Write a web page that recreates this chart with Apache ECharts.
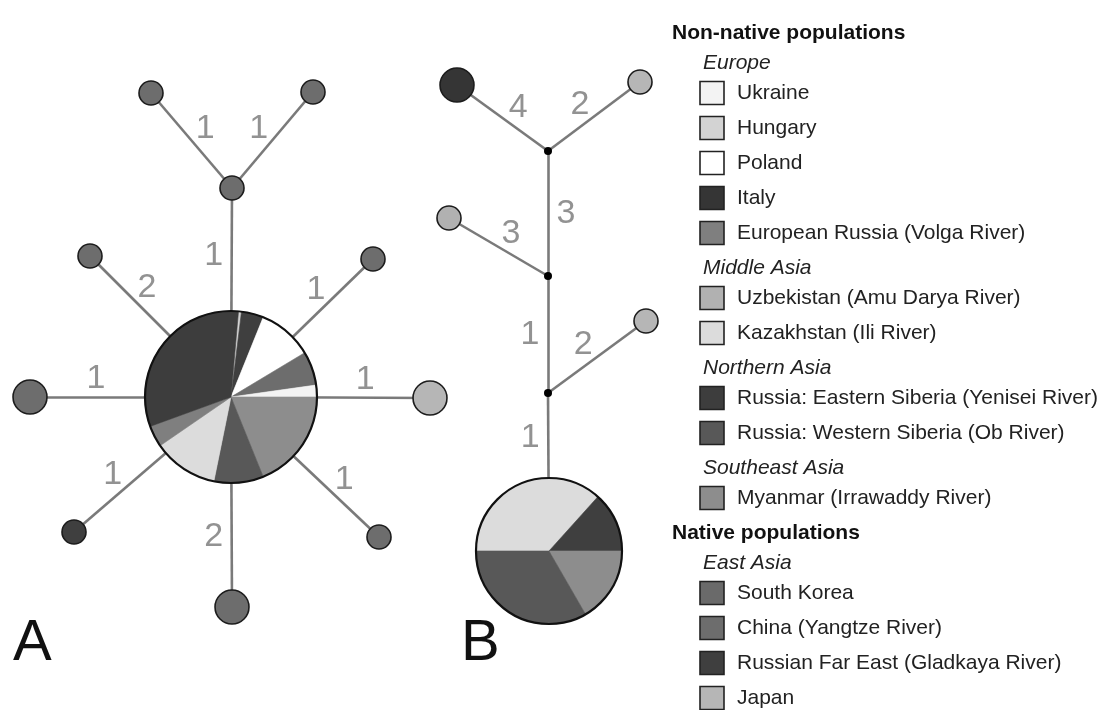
<!DOCTYPE html>
<html>
<head>
<meta charset="utf-8">
<script src="https://cdn.jsdelivr.net/npm/echarts@6/dist/echarts.min.js"></script>
<style>
html,body{margin:0;padding:0;background:#fff}
#main{width:1105px;height:710px}
</style>
</head>
<body>
<div id="main"></div>
<script>
// haplotype networks A and B + population legend

// nodes (x, y in figure units)
var nodeNames = ['A0','A1','A2','A3','A4','A5','A6','A7','A8','A9','A10','B0','B1','B2','B3','B4','B5','B6','B7'];
var nodeX = [231, 232, 151, 313, 90, 373, 30, 430, 74, 379, 232, 549, 548, 548, 548, 646, 449, 457, 640];
var nodeY = [397, 188, 93, 92, 256, 259, 397, 398, 532, 537, 607, 551, 393, 276, 151, 321, 218, 85, 82];
var nodeKind = ['pie','hap','hap','hap','hap','hap','hap','hap','hap','hap','hap','pie','median','median','median','hap','hap','hap','hap'];
var nodeCount = [0, 1, 1, 1, 1, 1, 2, 2, 1, 1, 2, 0, 0, 0, 0, 1, 1, 2, 1];
var nodePop = ['', 'China (Yangtze River)', 'China (Yangtze River)', 'China (Yangtze River)', 'China (Yangtze River)',
  'China (Yangtze River)', 'China (Yangtze River)', 'Japan', 'Russian Far East (Gladkaya River)', 'China (Yangtze River)',
  'China (Yangtze River)', '', '', '', '', 'Japan', 'Uzbekistan (Amu Darya River)', 'Italy', 'Japan'];

// links: number of mutational steps
var edgeFrom  = ['A0','A1','A1','A0','A0','A0','A0','A0','A0','A0','B0','B1','B1','B2','B2','B3','B3'];
var edgeTo    = ['A1','A2','A3','A4','A5','A6','A7','A8','A9','A10','B1','B4','B2','B5','B3','B6','B7'];
var edgeSteps = [1, 1, 1, 2, 1, 1, 1, 1, 1, 2, 1, 2, 1, 3, 3, 4, 2];
var edgeSide  = [-1, 1, -1, 1, -1, 1, -1, 1, -1, 1, -1, -1, -1, 1, 1, 1, -1];

// pie slices (share of haplotype), clockwise
var pieAPops = ['Hungary','Russian Far East (Gladkaya River)','Poland','China (Yangtze River)','Ukraine',
  'Myanmar (Irrawaddy River)','Russia: Western Siberia (Ob River)','Kazakhstan (Ili River)',
  'European Russia (Volga River)','Russia: Eastern Siberia (Yenisei River)'];
var pieAValues = [2, 15, 37, 23, 8, 68, 33.5, 44, 14.5, 115];
var pieBPops = ['Kazakhstan (Ili River)','Russian Far East (Gladkaya River)','Myanmar (Irrawaddy River)','Russia: Western Siberia (Ob River)'];
var pieBValues = [11, 4, 5, 10];

// legend rows
var legendText = ['Non-native populations','Europe','Ukraine','Hungary','Poland','Italy','European Russia (Volga River)',
  'Middle Asia','Uzbekistan (Amu Darya River)','Kazakhstan (Ili River)',
  'Northern Asia','Russia: Eastern Siberia (Yenisei River)','Russia: Western Siberia (Ob River)',
  'Southeast Asia','Myanmar (Irrawaddy River)',
  'Native populations','East Asia','South Korea','China (Yangtze River)','Russian Far East (Gladkaya River)','Japan'];
var legendKind = ['head','group','item','item','item','item','item','group','item','item',
  'group','item','item','group','item','head','group','item','item','item','item'];

var popColors = {
  'Ukraine': '#f3f3f3',
  'Hungary': '#d3d3d3',
  'Poland': '#ffffff',
  'Italy': '#353535',
  'European Russia (Volga River)': '#7f7f7f',
  'Uzbekistan (Amu Darya River)': '#b1b1b1',
  'Kazakhstan (Ili River)': '#dcdcdc',
  'Russia: Eastern Siberia (Yenisei River)': '#3d3d3d',
  'Russia: Western Siberia (Ob River)': '#585858',
  'Myanmar (Irrawaddy River)': '#8d8d8d',
  'South Korea': '#6a6a6a',
  'China (Yangtze River)': '#6d6d6d',
  'Russian Far East (Gladkaya River)': '#3f3f3f',
  'Japan': '#b6b6b6'
};
var pieRadius = { A0: 86, B0: 73 };
var LABEL_GAP = 18;
var FONT = '"Liberation Sans", Arial, sans-serif';

function idx(n) { return nodeNames.indexOf(n); }
function radius(i) {
  if (nodeKind[i] === 'pie') return pieRadius[nodeNames[i]];
  if (nodeKind[i] === 'median') return 4;
  return 12 * Math.sqrt(nodeCount[i]);
}

var edgeData = [], labelData = [];
for (var k = 0; k < edgeFrom.length; k++) {
  var a = idx(edgeFrom[k]), b = idx(edgeTo[k]);
  var dx = nodeX[b] - nodeX[a], dy = nodeY[b] - nodeY[a];
  var len = Math.sqrt(dx * dx + dy * dy);
  var ux = dx / len, uy = dy / len;
  edgeData.push({ coords: [[nodeX[a], nodeY[a]], [nodeX[b], nodeY[b]]] });
  // label beside the visible part of the link
  var t = (radius(a) + (len - radius(b))) / 2;
  var mx = nodeX[a] + ux * t, my = nodeY[a] + uy * t;
  var gap = LABEL_GAP * edgeSide[k];
  labelData.push({ value: [mx - uy * gap, my + ux * gap], steps: edgeSteps[k] });
}

var hapData = [], medianData = [];
for (var i = 0; i < nodeNames.length; i++) {
  if (nodeKind[i] === 'hap') {
    hapData.push({ value: [nodeX[i], nodeY[i]], symbolSize: radius(i) * 2,
      itemStyle: { color: popColors[nodePop[i]] } });
  } else if (nodeKind[i] === 'median') {
    medianData.push({ value: [nodeX[i], nodeY[i]], symbolSize: radius(i) * 2 });
  }
}
var pieOutline = ['A0', 'B0'].map(function (n) {
  var i = idx(n);
  return { value: [nodeX[i], nodeY[i]], symbolSize: radius(i) * 2 };
});

// legend built from rows
var legendGraphic = [];
var rowY = 33;
for (var r = 0; r < legendText.length; r++) {
  var kind = legendKind[r];
  if (kind === 'head') {
    legendGraphic.push({ type: 'text', x: 672, y: rowY, style: { text: legendText[r], font: 'bold 21px ' + FONT,
      fill: '#111', verticalAlign: 'middle' } });
  } else if (kind === 'group') {
    legendGraphic.push({ type: 'text', x: 703, y: rowY, style: { text: legendText[r], font: 'italic 21px ' + FONT,
      fill: '#222', verticalAlign: 'middle' } });
  } else {
    legendGraphic.push({ type: 'rect', shape: { x: 700, y: rowY - 11.5, width: 24, height: 23 },
      style: { fill: popColors[legendText[r]], stroke: '#222', lineWidth: 1.6 } });
    legendGraphic.push({ type: 'text', x: 737, y: rowY, style: { text: legendText[r], font: '21px ' + FONT,
      fill: '#222', verticalAlign: 'middle' } });
  }
  rowY += (kind === 'item' ? 35 : 30);
}
legendGraphic.push({ type: 'text', x: 13, y: 644, style: { text: 'A', font: '58px ' + FONT, fill: '#111', verticalAlign: 'middle' } });
legendGraphic.push({ type: 'text', x: 461, y: 644, style: { text: 'B', font: '58px ' + FONT, fill: '#111', verticalAlign: 'middle' } });

var chart = echarts.init(document.getElementById('main'));
chart.setOption({
  animation: false,
  backgroundColor: '#fff',
  grid: { left: 0, right: 0, top: 0, bottom: 0 },
  xAxis: { type: 'value', min: 0, max: 1105, show: false },
  yAxis: { type: 'value', min: 0, max: 710, inverse: true, show: false },
  graphic: legendGraphic,
  series: [
    {
      id: 'links', type: 'lines', coordinateSystem: 'cartesian2d', silent: true, z: 1,
      lineStyle: { color: '#7a7a7a', width: 2.6, opacity: 1 },
      data: edgeData
    },
    {
      id: 'haps', type: 'scatter', silent: true, z: 3, symbol: 'circle',
      itemStyle: { borderColor: '#1c1c1c', borderWidth: 1.6, opacity: 1 },
      data: hapData
    },
    {
      id: 'medians', type: 'scatter', silent: true, z: 3, symbol: 'circle',
      itemStyle: { color: '#000', opacity: 1 },
      data: medianData
    },
    {
      id: 'steps', type: 'scatter', silent: true, z: 4, symbolSize: 0,
      label: {
        show: true, position: 'inside', color: '#777', fontSize: 34, fontFamily: FONT,
        formatter: function (p) { return p.data.steps; }
      },
      data: labelData
    },
    {
      id: 'outline', type: 'scatter', silent: true, z: 6, symbol: 'circle',
      itemStyle: { color: 'rgba(0,0,0,0)', borderColor: '#111', borderWidth: 2.2, opacity: 1 },
      data: pieOutline
    }
  ]
});

// pies placed on the same axes
function pieSeries(id, node, pops, values, startAngle) {
  var i = idx(node);
  var c = chart.convertToPixel({ gridIndex: 0 }, [nodeX[i], nodeY[i]]);
  return {
    id: id, type: 'pie', silent: true, z: 5, center: c, radius: radius(i), startAngle: startAngle,
    clockwise: true, label: { show: false }, labelLine: { show: false },
    data: pops.map(function (p, j) {
      return { name: p, value: values[j],
        itemStyle: { color: popColors[p], borderColor: popColors[p], borderWidth: 0.6 } };
    })
  };
}
chart.setOption({
  series: [
    { id: 'links' }, { id: 'haps' }, { id: 'medians' }, { id: 'steps' }, { id: 'outline' },
    pieSeries('pieA', 'A0', pieAPops, pieAValues, 85),
    pieSeries('pieB', 'B0', pieBPops, pieBValues, 180)
  ]
});
</script>
</body>
</html>
